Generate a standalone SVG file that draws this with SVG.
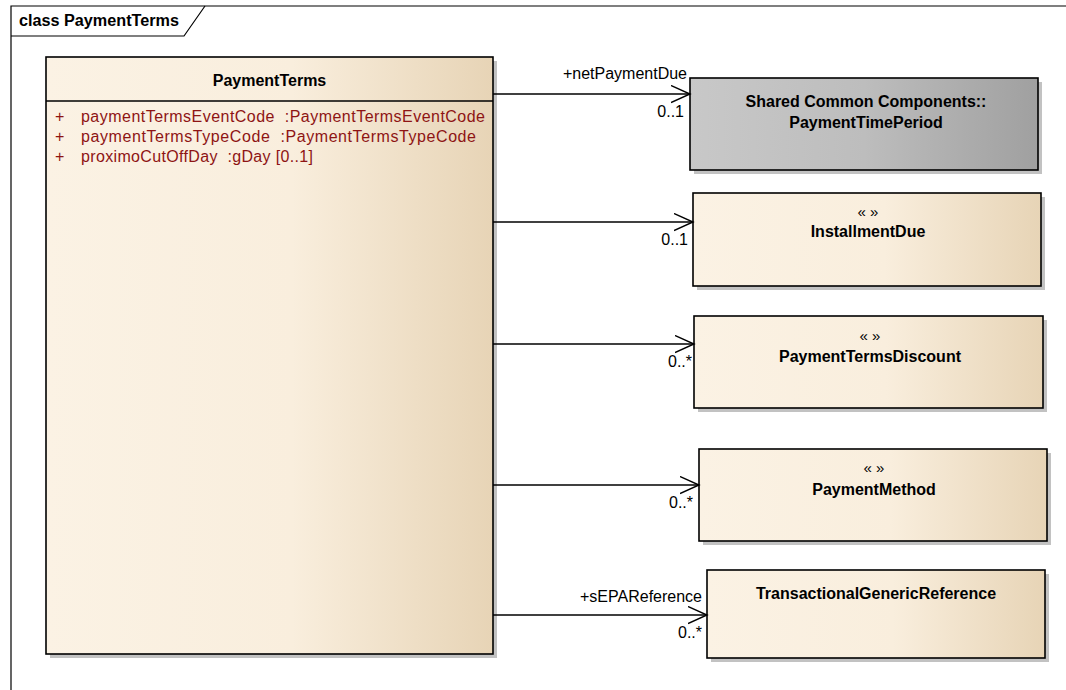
<svg xmlns="http://www.w3.org/2000/svg" width="1066" height="690" viewBox="0 0 1066 690">
  <style>
    text { font-family: "Liberation Sans", Arial, sans-serif; font-size: 16px; fill: #000; }
    .b { font-weight: bold; }
    .attr { fill: #8E1414; white-space: pre; }
    .st { font-size: 15px; }
    .c { text-anchor: middle; }
    .e { text-anchor: end; }
    .box { stroke: #000; stroke-width: 1.6; }
    .shadow { fill: #C2C2C2; }
    .conn { stroke: #000; stroke-width: 1.3; fill: none; }
    .frame { stroke: #000; stroke-width: 1.2; fill: none; }
  </style>
  <defs>
    <linearGradient id="cream" x1="0" y1="0" x2="1" y2="0">
      <stop offset="0" stop-color="#FBF2E4"/>
      <stop offset="0.55" stop-color="#F9EEDD"/>
      <stop offset="1" stop-color="#E7D4B6"/>
    </linearGradient>
    <linearGradient id="gray" x1="0" y1="0" x2="1" y2="0">
      <stop offset="0" stop-color="#C8C8C8"/>
      <stop offset="0.5" stop-color="#BDBDBD"/>
      <stop offset="1" stop-color="#A0A0A0"/>
    </linearGradient>
    <marker id="open" markerUnits="userSpaceOnUse" markerWidth="22" markerHeight="20" refX="19.5" refY="9" orient="auto">
      <path d="M0.5,0.5 L19.5,9 L0.5,17.5" fill="none" stroke="#000" stroke-width="1.4"/>
    </marker>
  </defs>

  <rect x="0" y="0" width="1066" height="690" fill="#FFFFFF"/>

  <g id="frame">
    <path class="frame" d="M11,690 L11,6 L1066,6"/>
    <path class="frame" d="M11,36 L184,36 L205,6"/>
    <text class="b" x="19" y="26" textLength="160" lengthAdjust="spacingAndGlyphs">class PaymentTerms</text>
  </g>

  <g id="PaymentTerms">
    <rect class="shadow" x="50" y="61" width="447" height="597"/>
    <rect class="box" x="46" y="57" width="447" height="597" fill="url(#cream)"/>
    <line class="box" x1="46" y1="101" x2="493" y2="101"/>
    <text class="b c" x="269.5" y="86">PaymentTerms</text>
    <text class="attr" x="55" y="122">+</text>
    <text class="attr" x="81" y="122" textLength="404" lengthAdjust="spacing" xml:space="preserve">paymentTermsEventCode  :PaymentTermsEventCode</text>
    <text class="attr" x="55" y="142">+</text>
    <text class="attr" x="81" y="142" textLength="395" lengthAdjust="spacing" xml:space="preserve">paymentTermsTypeCode  :PaymentTermsTypeCode</text>
    <text class="attr" x="55" y="162">+</text>
    <text class="attr" x="81" y="162" textLength="232" lengthAdjust="spacing" xml:space="preserve">proximoCutOffDay  :gDay [0..1]</text>
  </g>

  <g id="PaymentTimePeriod">
    <rect class="shadow" x="694" y="82" width="348" height="92"/>
    <rect class="box" x="690" y="78" width="348" height="92" fill="url(#gray)"/>
    <text class="b c" x="866" y="107">Shared Common Components::</text>
    <text class="b c" x="866" y="128">PaymentTimePeriod</text>
  </g>

  <g id="InstallmentDue">
    <rect class="shadow" x="697" y="197" width="348" height="93"/>
    <rect class="box" x="693" y="193" width="348" height="93" fill="url(#cream)"/>
    <text class="c st" x="868" y="217">« »</text>
    <text class="b c" x="868" y="237">InstallmentDue</text>
  </g>

  <g id="PaymentTermsDiscount">
    <rect class="shadow" x="698" y="320" width="349" height="92"/>
    <rect class="box" x="694" y="316" width="349" height="92" fill="url(#cream)"/>
    <text class="c st" x="870" y="341">« »</text>
    <text class="b c" x="870" y="362">PaymentTermsDiscount</text>
  </g>

  <g id="PaymentMethod">
    <rect class="shadow" x="703" y="453" width="348" height="92"/>
    <rect class="box" x="699" y="449" width="348" height="92" fill="url(#cream)"/>
    <text class="c st" x="874" y="473">« »</text>
    <text class="b c" x="874" y="495">PaymentMethod</text>
  </g>

  <g id="TransactionalGenericReference">
    <rect class="shadow" x="711" y="574" width="338" height="88"/>
    <rect class="box" x="707" y="570" width="338" height="88" fill="url(#cream)"/>
    <text class="b c" x="876" y="599">TransactionalGenericReference</text>
  </g>

  <g id="connectors">
    <line class="conn" x1="493" y1="94" x2="690" y2="94" marker-end="url(#open)"/>
    <text class="e" x="687" y="79">+netPaymentDue</text>
    <text class="e" x="684" y="117">0..1</text>

    <line class="conn" x1="493" y1="222" x2="693" y2="222" marker-end="url(#open)"/>
    <text class="e" x="688" y="245">0..1</text>

    <line class="conn" x1="493" y1="344" x2="694" y2="344" marker-end="url(#open)"/>
    <text class="e" x="692" y="367">0..*</text>

    <line class="conn" x1="493" y1="485" x2="699" y2="485" marker-end="url(#open)"/>
    <text class="e" x="693" y="508">0..*</text>

    <line class="conn" x1="493" y1="615" x2="707" y2="615" marker-end="url(#open)"/>
    <text class="e" x="702" y="602">+sEPAReference</text>
    <text class="e" x="702" y="638">0..*</text>
  </g>
</svg>
